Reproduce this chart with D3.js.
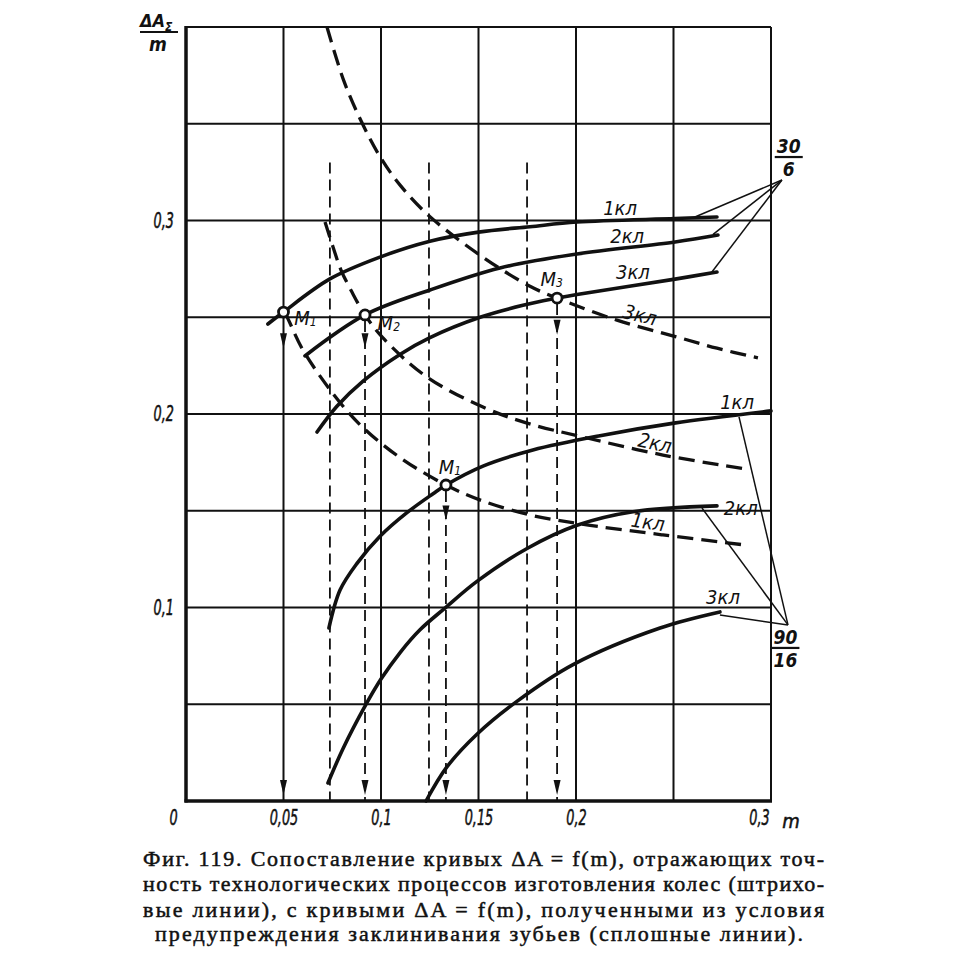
<!DOCTYPE html>
<html>
<head>
<meta charset="utf-8">
<script src="https://cdn.jsdelivr.net/npm/d3@7"></script>
<style>
    body { margin: 0; background: #fff; }
    svg { display: block; }
    text { fill: #111; }
    .lbl { font-family: "DejaVu Sans Condensed", "Liberation Sans Narrow", Roboto, sans-serif; font-style: italic; font-size: 20px; }
    .tk { font-size: 21px; stroke: #111; stroke-width: 0.5px; }
    .cap { font-family: "Liberation Serif", "DejaVu Serif", serif; font-size: 22px; stroke: #111; stroke-width: 0.5px; }
</style>
</head>
<body>
<svg id="chart" width="964" height="955"></svg>
<script>
// tick values and labels
const xTicks = [0, 0.05, 0.1, 0.15, 0.2, 0.3];
const yTicks = [0.1, 0.2, 0.3];
const gridStep = 0.05;

// solid curves, group 30/6 (m, dA/m)
const solid30_1 = [[0.042, 0.2465], [0.05, 0.2527], [0.0738, 0.2698], [0.0995, 0.2811], [0.1251, 0.2893], [0.15, 0.294], [0.1764, 0.2968], [0.2005, 0.2992], [0.2508, 0.301], [0.2723, 0.3018]];
const solid30_2 = [[0.061, 0.23], [0.0918, 0.2512], [0.1251, 0.2641], [0.161, 0.2755], [0.2005, 0.2827], [0.2508, 0.2889], [0.2728, 0.2925]];
const solid30_3 = [[0.0672, 0.1907], [0.0774, 0.204], [0.0908, 0.217], [0.1097, 0.2308], [0.1251, 0.2395], [0.1508, 0.25], [0.1728, 0.2562], [0.1903, 0.2599], [0.2005, 0.2618], [0.2508, 0.2697], [0.2723, 0.2734]];

// solid curves, group 90/16
const solid90_1 = [[0.0733, 0.0894], [0.079, 0.109], [0.0877, 0.1228], [0.0995, 0.1368], [0.1133, 0.149], [0.1267, 0.1588], [0.1333, 0.1633], [0.1523, 0.1731], [0.1779, 0.1814], [0.2123, 0.1888], [0.2503, 0.1953], [0.3, 0.2016]];
const solid90_2 = [[0.0728, 0.0093], [0.0805, 0.027], [0.0918, 0.049], [0.1, 0.063], [0.11, 0.077], [0.12, 0.0885], [0.1328, 0.0997], [0.1492, 0.1135], [0.1749, 0.1305], [0.2005, 0.1425], [0.2292, 0.1495], [0.2723, 0.1525]];
const solid90_3 = [[0.1231, 0], [0.1338, 0.0176], [0.1492, 0.0345], [0.1697, 0.0515], [0.1985, 0.0705], [0.2431, 0.0894], [0.2738, 0.0977]];

// dashed curves (technological accuracy)
const dashed_3 = [[0.0723, 0.4], [0.081, 0.372], [0.09, 0.351], [0.0995, 0.333], [0.11, 0.318], [0.1251, 0.302], [0.1523, 0.281], [0.1764, 0.266], [0.1903, 0.2599], [0.221, 0.2485], [0.2518, 0.2398], [0.2723, 0.234], [0.2933, 0.229]];
const dashed_2 = [[0.0713, 0.2992], [0.0754, 0.2863], [0.0795, 0.2744], [0.0851, 0.263], [0.0918, 0.2512], [0.101, 0.2393], [0.1236, 0.2191], [0.1523, 0.2036], [0.1749, 0.1953], [0.2036, 0.1881], [0.2446, 0.1788], [0.2867, 0.1716]];
const dashed_1 = [[0.0508, 0.2527], [0.0533, 0.247], [0.06, 0.233], [0.0754, 0.2105], [0.0892, 0.1945], [0.1097, 0.1775], [0.1333, 0.1633], [0.1523, 0.155], [0.1779, 0.1475], [0.2072, 0.1425], [0.2446, 0.1375], [0.2867, 0.1323]];

// intersection points
const markers = [
    { name: "M", sub: "1", m: 0.05, v: 0.2527, lm: 0.0612, lv: 0.2496, arrowTop: 0.234 },
    { name: "M", sub: "2", m: 0.0918, v: 0.2512, lm: 0.104, lv: 0.247, arrowTop: 0.234 },
    { name: "M", sub: "3", m: 0.1903, v: 0.2599, lm: 0.1875, lv: 0.2697, arrowTop: 0.241 },
    { name: "M", sub: "1", m: 0.1333, v: 0.1633, lm: 0.1354, lv: 0.1728, arrowTop: 0.145 }
];

// thin dashed reference verticals
const refLines = [0.0738, 0.1246, 0.1749];
const refTop = 0.33;

// curve labels
const curveLabels = [
    { t: "1кл", m: 0.2226, v: 0.3065, r: 0 },
    { t: "2кл", m: 0.2262, v: 0.292, r: 0 },
    { t: "3кл", m: 0.2292, v: 0.2734, r: 0 },
    { t: "3кл", m: 0.2328, v: 0.2512, r: 14 },
    { t: "1кл", m: 0.2826, v: 0.2062, r: 0 },
    { t: "2кл", m: 0.2405, v: 0.185, r: 12 },
    { t: "2кл", m: 0.2845, v: 0.1514, r: 0 },
    { t: "1кл", m: 0.2369, v: 0.1442, r: 8 },
    { t: "3кл", m: 0.2754, v: 0.1054, r: 0 }
];

// leader lines to the group fractions
const groups = [
    { num: "30", den: "6", apex: [0.3056, 0.3209], ends: [[0.261, 0.3018], [0.2703, 0.2928], [0.2697, 0.2734]], fm: 0.3091, fv: 0.3328 },
    { num: "90", den: "16", apex: [0.3087, 0.091], ends: [[0.2836, 0.1985], [0.2646, 0.1514], [0.2738, 0.0961]], fm: 0.3074, fv: 0.0791 }
];

const caption = [
    "Фиг. 119. Сопоставление кривых ΔA = f(m), отражающих точ-",
    "ность технологических процессов изготовления колес (штрихо-",
    "вые линии), с кривыми ΔA = f(m), полученными из  условия",
    "предупреждения заклинивания зубьев (сплошные линии)."
];

const svg = d3.select("#chart");

const x = d3.scaleLinear().domain([0, 0.3]).range([186, 771]);
const y = d3.scaleLinear().domain([0, 0.4]).range([801, 27]);

const fmt = (d) => String(d).replace(".", ",");
// narrow, tall tick digits like the drafting font of the original
const narrowLen = (s) => s.replace(/[^0-9]/g, "").length * 8.2 + (s.includes(",") ? 4 : 0);

// grid
const gGrid = svg.append("g").attr("stroke", "#111").attr("stroke-width", 2);
d3.range(gridStep, 0.3 + 1e-9, gridStep).forEach((v) => {
    gGrid.append("line")
        .attr("x1", x(v)).attr("x2", x(v))
        .attr("y1", y(0)).attr("y2", y(0.4));
});
d3.range(gridStep, 0.4 + 1e-9, gridStep).forEach((v) => {
    gGrid.append("line")
        .attr("x1", x(0)).attr("x2", x(0.3))
        .attr("y1", y(v)).attr("y2", y(v));
});

// axes (thicker)
svg.append("line").attr("x1", x(0)).attr("x2", x(0)).attr("y1", y(0) + 1.5).attr("y2", y(0.4) - 1)
    .attr("stroke", "#111").attr("stroke-width", 3.5);
svg.append("line").attr("x1", x(0) - 1.5).attr("x2", x(0.3) + 1).attr("y1", y(0)).attr("y2", y(0))
    .attr("stroke", "#111").attr("stroke-width", 3.5);

// tick labels
const xAxis = svg.append("g")
    .attr("transform", `translate(0,${y(0) + 3})`)
    .call(d3.axisBottom(x).tickValues(xTicks).tickSize(0).tickPadding(6)
        .tickFormat((d) => (d === 0.3 ? "0,3" : fmt(d))));
xAxis.select(".domain").remove();
xAxis.selectAll("text").attr("class", "lbl tk").attr("font-size", null).attr("font-family", null)
    .attr("dx", (d) => (d === 0 ? -13 : d === 0.3 ? -12 : 0))
    .attr("textLength", function () { return narrowLen(this.textContent); })
    .attr("lengthAdjust", "spacingAndGlyphs");
svg.append("text").attr("class", "lbl tk").attr("x", 791).attr("y", y(0) + 27)
    .attr("text-anchor", "middle").style("font-size", "20px").text("m");

const yAxis = svg.append("g")
    .attr("transform", `translate(${x(0) - 3},0)`)
    .call(d3.axisLeft(y).tickValues(yTicks).tickSize(0).tickPadding(9).tickFormat(fmt));
yAxis.select(".domain").remove();
yAxis.selectAll("text").attr("class", "lbl tk").attr("font-size", null).attr("font-family", null)
    .attr("textLength", function () { return narrowLen(this.textContent); })
    .attr("lengthAdjust", "spacingAndGlyphs");

// axis title dA_Σ / m
const gTitle = svg.append("g").style("font-weight", "bold");
const tt = gTitle.append("text").attr("class", "lbl").attr("x", 140).attr("y", 27).style("font-size", "18px");
tt.append("tspan").text("ΔA");
tt.append("tspan").attr("dy", 4).style("font-size", "12px").text("Σ");
gTitle.append("line").attr("x1", 140).attr("x2", 178).attr("y1", 32).attr("y2", 32)
    .attr("stroke", "#111").attr("stroke-width", 2);
gTitle.append("text").attr("class", "lbl").attr("x", 158).attr("y", 51)
    .attr("text-anchor", "middle").style("font-size", "19px").text("m");

// reference verticals
svg.append("g").selectAll("line").data(refLines).enter().append("line")
    .attr("x1", (d) => x(d)).attr("x2", (d) => x(d))
    .attr("y1", y(refTop)).attr("y2", y(0))
    .attr("stroke", "#111").attr("stroke-width", 1.8).attr("stroke-dasharray", "11 6");

// drop lines from M points
svg.append("g").selectAll("line").data(markers.filter((d) => d.m !== 0.05)).enter().append("line")
    .attr("x1", (d) => x(d.m)).attr("x2", (d) => x(d.m))
    .attr("y1", (d) => y(d.v) + 6).attr("y2", y(0))
    .attr("stroke", "#111").attr("stroke-width", 1.8).attr("stroke-dasharray", "11 6");

// arrowheads
const arrow = (px, py) => `M${px - 3.5},${py - 15}L${px + 3.5},${py - 15}L${px},${py}Z`;
const gArrow = svg.append("g").attr("fill", "#111");
markers.forEach((d) => {
    gArrow.append("path").attr("d", arrow(x(d.m), y(d.arrowTop)));
    gArrow.append("path").attr("d", arrow(x(d.m), y(0) - 6));
});

// curves
const line = d3.line()
    .x((d) => x(d[0]))
    .y((d) => y(d[1]))
    .curve(d3.curveCatmullRom.alpha(0.5));

const solids = [solid30_1, solid30_2, solid30_3, solid90_1, solid90_2, solid90_3];
const dashes = [dashed_3, dashed_2, dashed_1];

svg.append("g").selectAll("path").data(dashes).enter().append("path")
    .attr("d", line)
    .attr("fill", "none").attr("stroke", "#111").attr("stroke-width", 3.3)
    .attr("stroke-dasharray", "16 8");

svg.append("g").selectAll("path").data(solids).enter().append("path")
    .attr("d", line)
    .attr("fill", "none").attr("stroke", "#111").attr("stroke-width", 3.6)
    .attr("stroke-linecap", "round");

// leader lines
const gLead = svg.append("g").attr("stroke", "#111").attr("stroke-width", 1.5);
groups.forEach((g) => {
    g.ends.forEach((e) => {
        gLead.append("line")
            .attr("x1", x(g.apex[0])).attr("y1", y(g.apex[1]))
            .attr("x2", x(e[0])).attr("y2", y(e[1]));
    });
    const cx = x(g.fm), cy = y(g.fv);
    svg.append("text").attr("class", "lbl").attr("x", cx).attr("y", cy - 4)
        .attr("text-anchor", "middle").style("font-weight", "bold").style("font-size", "19px").text(g.num);
    svg.append("line").attr("x1", cx - 14).attr("x2", cx + 14).attr("y1", cy).attr("y2", cy)
        .attr("stroke", "#111").attr("stroke-width", 2.2);
    svg.append("text").attr("class", "lbl").attr("x", cx).attr("y", cy + 19)
        .attr("text-anchor", "middle").style("font-weight", "bold").style("font-size", "19px").text(g.den);
});

// markers
svg.append("g").selectAll("circle").data(markers).enter().append("circle")
    .attr("cx", (d) => x(d.m)).attr("cy", (d) => y(d.v)).attr("r", 5)
    .attr("fill", "#fff").attr("stroke", "#111").attr("stroke-width", 2.8);

const mText = svg.append("g").selectAll("text").data(markers).enter().append("text")
    .attr("class", "lbl")
    .attr("x", (d) => x(d.lm)).attr("y", (d) => y(d.lv))
    .attr("dominant-baseline", "central")
    .attr("text-anchor", "middle");
mText.append("tspan").text((d) => d.name);
mText.append("tspan").attr("dy", 4).style("font-size", "12px").text((d) => d.sub);

// curve labels
svg.append("g").selectAll("text").data(curveLabels).enter().append("text")
    .attr("class", "lbl")
    .attr("text-anchor", "middle").attr("dominant-baseline", "central")
    .attr("transform", (d) => `translate(${x(d.m)},${y(d.v)}) rotate(${d.r})`)
    .text((d) => d.t);

// caption
const capY = [866, 891, 917, 941];
caption.forEach((s, i) => {
    const t = svg.append("text").attr("class", "cap").attr("y", capY[i]);
    if (i < 3) {
        t.attr("x", 143).attr("textLength", 681).attr("lengthAdjust", "spacing");
    } else {
        t.attr("x", 155).attr("textLength", 648).attr("lengthAdjust", "spacing");
    }
    t.text(s);
});
</script>
</body>
</html>
